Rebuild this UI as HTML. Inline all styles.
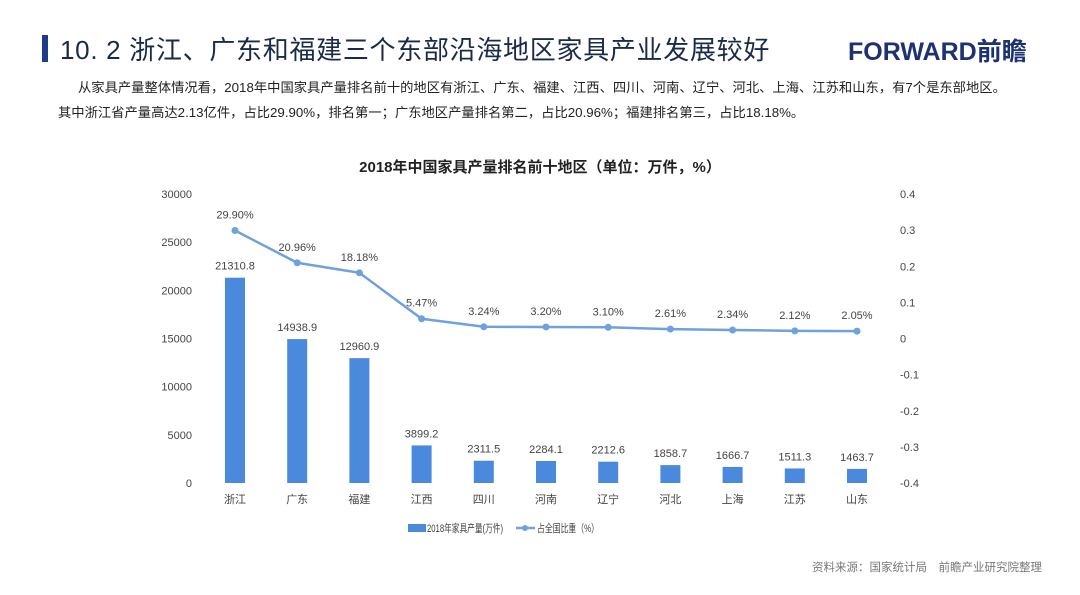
<!DOCTYPE html>
<html><head><meta charset="utf-8">
<style>
body{margin:0;width:1080px;height:595px;background:#fff;overflow:hidden;font-family:"Liberation Sans","Noto Sans CJK SC",sans-serif;position:relative}
.t{position:absolute;white-space:nowrap}
</style></head><body>
<div class="t" style="left:42px;top:35px;width:6px;height:27px;background:#1e3a8a"></div>
<div class="t" style="left:60px;top:30px;font-size:26px;color:#1c2a4a;letter-spacing:0.7px">10. 2 浙江、广东和福建三个东部沿海地区家具产业发展较好</div>
<div class="t" style="left:848px;top:32px;font-size:25px;font-weight:bold;color:#1e3170">FORWARD前瞻</div>
<div class="t" style="left:78px;top:77px;font-size:13.3px;color:#222">从家具产量整体情况看，2018年中国家具产量排名前十的地区有浙江、广东、福建、江西、四川、河南、辽宁、河北、上海、江苏和山东，有7个是东部地区。</div>
<div class="t" style="left:58px;top:102px;font-size:13.3px;color:#222">其中浙江省产量高达2.13亿件，占比29.90%，排名第一；广东地区产量排名第二，占比20.96%；福建排名第三，占比18.18%。</div>
<div class="t" style="left:812px;top:559px;font-size:11.5px;color:#777">资料来源：国家统计局　前瞻产业研究院整理</div>
<svg id="c" width="1080" height="595" style="position:absolute;left:0;top:0" font-family="Liberation Sans, Noto Sans CJK SC, sans-serif"></svg>
<script>
const categories=["浙江","广东","福建","江西","四川","河南","辽宁","河北","上海","江苏","山东"];
const output=[21310.8,14938.9,12960.9,3899.2,2311.5,2284.1,2212.6,1858.7,1666.7,1511.3,1463.7];
const share=[29.90,20.96,18.18,5.47,3.24,3.20,3.10,2.61,2.34,2.12,2.05];
const leftTicks=[0,5000,10000,15000,20000,25000,30000];
const rightTicks=[-0.4,-0.3,-0.2,-0.1,0,0.1,0.2,0.3,0.4];
const svg=document.getElementById('c');const NS='http://www.w3.org/2000/svg';
const top0=194,bot=483;
const yL=v=>bot-(v/30000)*(bot-top0);
const yR=v=>bot-((v+0.4)/0.8)*(bot-top0);
const xC=i=>235+i*62.2;
function mk(t,a,txt){const e=document.createElementNS(NS,t);for(const k in a)e.setAttribute(k,a[k]);if(txt!=null)e.textContent=txt;svg.appendChild(e);return e;}
let e=mk('text',{x:540,y:172,'text-anchor':'middle','font-size':15,'font-weight':'bold',fill:'#222'},'2018年中国家具产量排名前十地区（单位：万件，%）');


leftTicks.forEach(v=>{const t=mk('text',{x:192,y:yL(v)+4,'text-anchor':'end','font-size':11,fill:'#444'},String(v));

});
rightTicks.forEach(v=>{const t=mk('text',{x:900,y:yR(v)+4,'font-size':11,fill:'#444'},String(Math.round(v*10)/10));

});
categories.forEach((c,i)=>{const x=xC(i);
const b=mk('rect',{x:x-10,y:yL(output[i]),width:20,height:bot-yL(output[i]),fill:'#4a89dc'});


const l=mk('text',{x:x,y:yL(output[i])-8,'text-anchor':'middle','font-size':11,fill:'#444'},output[i].toFixed(1));


const cl=mk('text',{x:x,y:503,'text-anchor':'middle','font-size':11,fill:'#444'},c);

});
const pts=share.map((s,i)=>xC(i)+','+yR(s/100)).join(' ');
const pl=mk('polyline',{points:pts,fill:'none',stroke:'#6fa1dc','stroke-width':2.5});


share.forEach((s,i)=>{const p=mk('circle',{cx:xC(i),cy:yR(s/100),r:3.5,fill:'#6fa1dc'});


const t=mk('text',{x:xC(i),y:yR(s/100)-12,'text-anchor':'middle','font-size':11,fill:'#444'},s.toFixed(2)+'%');

});
const lg1=mk('rect',{x:408,y:524,width:18,height:8,fill:'#4a89dc'});


const lt1=mk('text',{x:427,y:532,'font-size':11,fill:'#444',textLength:76,lengthAdjust:'spacingAndGlyphs'},'2018年家具产量(万件)');


const lg2=mk('line',{x1:516,y1:528,x2:535,y2:528,stroke:'#6fa1dc','stroke-width':2.5});


mk('circle',{cx:525,cy:528,r:3,fill:'#6fa1dc'});
const lt2=mk('text',{x:537,y:532,'font-size':11,fill:'#444',textLength:62,lengthAdjust:'spacingAndGlyphs'},'占全国比重（%）');


</script>
</body></html>
